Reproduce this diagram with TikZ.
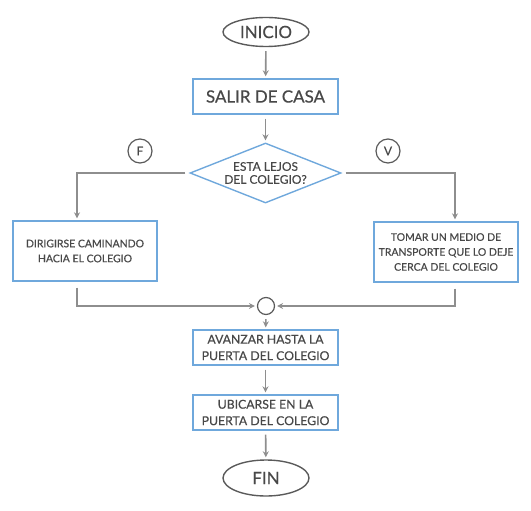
\documentclass[tikz,border=0pt]{standalone}
\usepackage{fontspec}
\setmainfont{Lato}[FakeBold=0.5]
\usetikzlibrary{arrows,shapes.geometric,positioning}
\usetikzlibrary{arrows.meta}
\definecolor{boxColor}{HTML}{6FA8DC}
\definecolor{lineColor}{HTML}{8E8E8E}
\definecolor{txtColor}{HTML}{484848}
\definecolor{endColor}{HTML}{5A5A5A}
\tikzset{process/.style={draw=boxColor, line width=1.4pt, text=txtColor, align=center,
		minimum width=145bp, minimum height=35bp, inner sep=1pt}}
\tikzset{terminal/.style={ellipse, draw=endColor, line width=1.4pt, text=txtColor,
		minimum width=86bp, minimum height=29bp, inner sep=0pt, font=\fontsize{17}{19}\selectfont}}
\tikzset{decision/.style={diamond, aspect=2.5, draw=boxColor, line width=1.4pt, text=txtColor,
		align=center, minimum width=151bp, minimum height=60bp, inner sep=0pt,
		font=\fontsize{12}{13}\selectfont}}
\tikzset{flag/.style={circle, draw=endColor, line width=1.2pt, text=txtColor,
		minimum size=24bp, inner sep=0pt, font=\fontsize{12}{14}\selectfont}}
\tikzset{junction/.style={circle, draw=endColor, line width=1.2pt, minimum size=17bp, inner sep=0pt}}
\tikzset{flow/.style={draw=lineColor, line width=1.6pt, -{Stealth[length=6bp,width=6bp]},
		shorten >=2bp, shorten <=4bp}}
\newcommand{\bigtxt}{\fontsize{17}{18}\selectfont}
\newcommand{\midtxt}{\fontsize{12.3}{16.5}\selectfont}
\newcommand{\smalltxt}{\fontsize{10.5}{15}\selectfont}

\begin{document}
\begin{tikzpicture}[x=1bp,y=-1bp]
	\useasboundingbox (0,0) rectangle (531,511);
	\node[terminal] at (266,32) (inicio) {INICIO};
	\node[process, font=\bigtxt] at (265.5,96.5) (salir) {SALIR DE CASA};
	\node[decision] at (265.5,173) (lejos) {ESTA LEJOS\\DEL COLEGIO?};
	\node[flag] at (140,151) (falso) {F};
	\node[flag] at (388,151) (verdad) {V};
	\node[process, minimum width=144bp, minimum height=60bp, font=\smalltxt] at (85,251) (caminar)
		{DIRIGIRSE CAMINANDO\\HACIA EL COLEGIO};
	\node[process, minimum width=144bp, minimum height=60bp, font=\smalltxt] at (446,252) (transporte)
		{TOMAR UN MEDIO DE\\TRANSPORTE QUE LO DEJE\\CERCA DEL COLEGIO};
	\node[junction] at (266,306) (unir) {};
	\node[process, font=\midtxt] at (265.5,347.5) (avanzar) {AVANZAR HASTA LA\\PUERTA DEL COLEGIO};
	\node[process, font=\midtxt] at (265.5,412.5) (ubicar) {UBICARSE EN LA\\PUERTA DEL COLEGIO};
	\node[terminal, minimum height=36bp] at (266,478) (fin) {FIN};
	% flechas
	\draw[flow] (inicio) -- (salir);
	\draw[flow] (salir) -- (lejos);
	\draw[flow] (lejos.west) -| ([xshift=-8bp]caminar.north);
	\draw[flow] (lejos.east) -| ([xshift=9bp]transporte.north);
	\draw[flow, shorten <=6bp] ([xshift=-8bp]caminar.south) |- (unir.west);
	\draw[flow, shorten <=6bp] ([xshift=9bp]transporte.south) |- (unir.east);
	\draw[flow] (unir) -- (avanzar);
	\draw[flow] (avanzar) -- (ubicar);
	\draw[flow] (ubicar) -- (fin);
\end{tikzpicture}
\end{document}
